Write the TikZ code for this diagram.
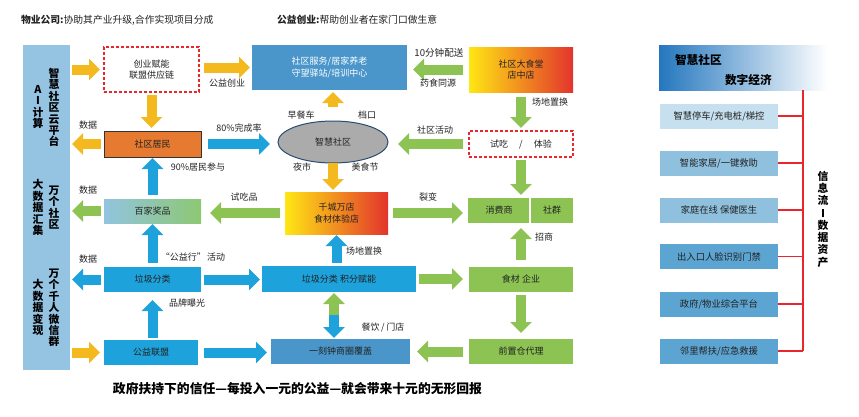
\documentclass[tikz,border=0pt]{standalone}
\usepackage{fontspec}
\setmainfont{Noto Sans CJK SC}
\usetikzlibrary{arrows.meta,shapes.geometric}
\definecolor{cyel}{HTML}{F4B91F}
\definecolor{cblu}{HTML}{1DA2DC}
\definecolor{cgrn}{HTML}{8CC353}
\definecolor{csteel}{HTML}{4A96CA}
\definecolor{cpanel}{HTML}{95C3E2}
\definecolor{corg}{HTML}{E57A30}
\definecolor{cred}{HTML}{E8262B}
\definecolor{cgray}{HTML}{ABABAB}
\definecolor{cell}{HTML}{2B4C70}
\definecolor{cit1}{HTML}{C6E0EF}
\definecolor{cit2}{HTML}{8FC1DF}
\definecolor{cit3}{HTML}{5CA4D1}
\definecolor{chead}{HTML}{2477BE}
\definecolor{ctxt}{HTML}{222222}
\definecolor{gyel}{HTML}{FFE614}
\definecolor{gorg}{HTML}{F4A22A}
\definecolor{gred}{HTML}{E3342C}
\definecolor{gpb}{HTML}{92C4E0}
\definecolor{gpg}{HTML}{8DC873}
\newcommand\myvtfont{\fontsize{10.8}{11.4}\selectfont\bfseries\lineskiplimit=-20pt\relax\lineskip=0pt\relax}
\newcommand\myrvfont{\fontsize{10.8}{12.3}\selectfont\bfseries\lineskiplimit=-20pt\relax\lineskip=0pt\relax}
\begin{document}
\begin{tikzpicture}[x=1pt,y=-1pt,
  every node/.style={inner sep=0pt, outer sep=0pt},
  lbl/.style={font=\fontsize{9}{10}\selectfont, text=ctxt},
  bx/.style={font=\fontsize{9}{11.5}\selectfont, text=ctxt, align=center},
  vt/.style={font=\myvtfont, text=black, align=center},
  blk/.style={draw=#1, line width=10pt, -{Triangle[length=11pt,width=21pt]}},
  dbox/.style={bx, draw=cred, line width=1.1pt, dash pattern=on 3pt off 2pt, fill=white},
  gradbox/.style={bx, left color=gyel, middle color=gorg, right color=gred},
  rbox/.style={bx, font=\fontsize{9.3}{11}\selectfont, minimum width=118pt, minimum height=25pt},
  redline/.style={draw=cred, line width=1.1pt}
]
\useasboundingbox (0,0) rectangle (859,416);

% top texts
\node[anchor=west, font=\fontsize{9.8}{11}\selectfont, text=ctxt] (t1) at (21,20) {\textbf{物业公司:}协助其产业升级,合作实现项目分成};
\node[anchor=west, font=\fontsize{9.8}{11}\selectfont, text=ctxt] (t2) at (277,20) {\textbf{公益创业:}帮助创业者在家门口做生意};

% left panel
\node[fill=cpanel, minimum width=47pt, minimum height=325pt] (panel) at (46.5,207.5) {};
\node[vt] (p1) at (38,107) {A\\I\\计\\算};
\node[vt] (p2) at (54,107.5) {智\\慧\\社\\区\\云\\平\\台};
\node[vt] (p3) at (38,207.5) {大\\数\\据\\汇\\集};
\node[vt] (p4) at (54,207.5) {万\\个\\社\\区};
\node[vt] (p5) at (38,307.5) {大\\数\\据\\变\\现};
\node[vt] (p6) at (54,308) {万\\个\\千\\人\\微\\信\\群};

% main nodes
\node[dbox, minimum width=95pt, minimum height=45pt] (dash1) at (151.5,69.5) {创业赋能\\联盟供应链};
\node[bx, fill=csteel, text=white, minimum width=155pt, minimum height=45pt] (svc) at (329.5,67.5) {社区服务/居家养老\\守望驿站/培训中心};
\node[gradbox, minimum width=104pt, minimum height=45pt] (canteen) at (521,69.5) {社区大食堂\\店中店};
\node[bx, fill=corg, draw=black!80, line width=0.8pt, minimum width=97pt, minimum height=26pt] (resid) at (152.5,144) {社区居民};
\node[bx, ellipse, draw=cell, line width=1pt, fill=cgray, minimum width=110pt, minimum height=42pt] (ell) at (333,142) {智慧社区};
\node[dbox, minimum width=104pt, minimum height=26pt] (trial) at (521,144) {试吃\hspace{11pt}/\hspace{11pt}体验};
\node[bx, left color=gpb, right color=gpg, minimum width=97pt, minimum height=24pt] (prize) at (152.5,211) {百家奖品};
\node[gradbox, minimum width=103pt, minimum height=42pt] (qc) at (336.5,213) {千城万店\\食材体验店};
\node[bx, fill=cgrn, minimum width=105pt, minimum height=25pt] (consumer) at (520.5,210.5) {};
\node[bx] (cons1) at (499,210.5) {消费商};
\node[bx] (cons2) at (552,210.5) {社群};
\draw[white, line width=1.3pt] (consumer.north -| 530,0) -- (consumer.south -| 530,0);
\node[bx, fill=cblu, minimum width=97pt, minimum height=25pt] (garbage) at (152.5,279.5) {垃圾分类};
\node[bx, fill=cblu, minimum width=154pt, minimum height=26pt] (gpoints) at (339,279) {垃圾分类 积分赋能};
\node[bx, fill=cgrn, minimum width=104pt, minimum height=25pt] (food) at (521,279.5) {食材 企业};
\node[bx, fill=cblu, minimum width=94pt, minimum height=25pt] (league) at (151,352.5) {公益联盟};
\node[bx, fill=csteel, minimum width=139pt, minimum height=25pt] (circle) at (340.5,351.5) {一刻钟商圈覆盖};
\node[bx, fill=cgrn, minimum width=104pt, minimum height=25pt] (front) at (521,351.5) {前置仓代理};

% yellow arrows
\draw[blk=cyel, shorten <=2pt, shorten >=4pt] (panel.east |- dash1) -- (dash1.west);
\draw[blk=cyel, shorten <=5pt, shorten >=2pt] (dash1.east |- svc) -- (svc.west);
\draw[blk=cyel, shorten <=3pt, shorten >=3pt] (dash1.south) -- (dash1.south |- resid.north);
\draw[blk=cyel, shorten <=3pt, shorten >=2pt] (resid.west) -- (resid.west -| panel.east);
\draw[blk=cyel, shorten <=14pt, shorten >=2pt] (ell.north) -- (ell.north |- svc.south);
\draw[blk=cyel, shorten <=0pt, shorten >=2pt] (ell.south) -- (ell.south |- qc.north);
\draw[blk=cyel, shorten <=2pt, shorten >=4pt] (panel.east |- league) -- (league.west);

% blue arrows
\draw[blk=cblu, shorten <=7pt, shorten >=8pt] (resid.east) -- (resid.east -| ell.west);
\draw[blk=cblu, shorten <=4pt, shorten >=1pt] (prize.north) -- (prize.north |- resid.south);
\draw[blk=cblu, shorten <=4pt, shorten >=1pt] (garbage.north) -- (garbage.north |- prize.south);
\draw[blk=cblu, shorten <=3pt, shorten >=2pt] (garbage.west) -- (garbage.west -| panel.east);
\draw[blk=cblu, shorten <=3pt, shorten >=2pt] (garbage.east) -- (garbage.east -| gpoints.west);
\draw[blk=cblu, shorten <=2pt, shorten >=8pt] (league.north -| garbage) -- (garbage.south);
\draw[blk=cblu, shorten <=6pt, shorten >=4pt] (league.east) -- (league.east -| circle.west);
\draw[blk=cblu, shorten <=3pt, shorten >=1pt] (qc.south |- gpoints.north) -- (qc.south);
\coordinate (gmid) at (334,315);
\draw[blk=cgrn, shorten >=1pt] (gmid) -- (gmid |- gpoints.south);
\draw[blk=cblu, shorten >=1pt] (gmid) -- (gmid |- circle.north);

% green arrows
\draw[blk=cgrn, shorten <=6pt, shorten >=6pt] (canteen.west) -- (canteen.west -| svc.east);
\draw[blk=cgrn, shorten <=6pt, shorten >=10pt] (trial.west) -- (trial.west -| ell.east);
\draw[blk=cgrn, shorten <=5pt, shorten >=3pt] (canteen.south) -- (canteen.south |- trial.north);
\draw[blk=cgrn, shorten <=3pt, shorten >=3pt] (trial.south) -- (trial.south |- consumer.north);
\draw[blk=cgrn, shorten <=5pt, shorten >=5pt] (qc.east) -- (qc.east -| consumer.west);
\draw[blk=cgrn, shorten <=5pt, shorten >=9pt] (qc.west) -- (qc.west -| prize.east);
\draw[blk=cgrn, shorten <=3pt, shorten >=2pt] (prize.west) -- (prize.west -| panel.east);
\draw[blk=cgrn, shorten <=3pt, shorten >=6pt] (gpoints.east) -- (gpoints.east -| food.west);
\draw[blk=cgrn, shorten <=7pt, shorten >=5pt] (food.north) -- (food.north |- consumer.south);
\draw[blk=cgrn, shorten <=3pt, shorten >=6pt] (food.south) -- (food.south |- front.north);
\draw[blk=cgrn, shorten <=6pt, shorten >=7pt] (front.west) -- (front.west -| circle.east);

% labels
\node[lbl] (l1) at (227,83) {公益创业};
\node[lbl, font=\fontsize{9.6}{10}\selectfont] (l2) at (439,53) {10分钟配送};
\node[lbl] (l3) at (438,83) {药食同源};
\node[lbl] (l4) at (550,102) {场地置换};
\node[lbl] (l5) at (88,125) {数据};
\node[lbl] (l6) at (88,190) {数据};
\node[lbl] (l7) at (88,259) {数据};
\node[lbl] (l8) at (239,128) {80\%完成率};
\node[lbl] (l9) at (301,115) {早餐车};
\node[lbl] (l10) at (367,115) {档口};
\node[lbl] (l11) at (435,130) {社区活动};
\node[lbl] (l12) at (302,167) {夜市};
\node[lbl] (l13) at (365,167) {美食节};
\node[lbl] (l14) at (198,167) {90\%居民参与};
\node[lbl] (l15) at (244,197) {试吃品};
\node[lbl] (l16) at (428,197) {裂变};
\node[lbl] (l17) at (544,237) {招商};
\node[lbl] (l18) at (364,251) {场地置换};
\node[lbl] (l19) at (193,257) {“公益行”\,活动};
\node[lbl] (l20) at (187,303) {品牌曝光};
\node[lbl] (l21) at (383,328) {餐饮\,/\,门店};

% bottom text
\node[font=\fontsize{12.8}{14}\selectfont\bfseries, text=black] (bt) at (297.5,389) {政府扶持下的信任—每投入一元的公益—就会带来十元的无形回报};

% right panel
\node[left color=chead, right color=white, minimum width=168pt, minimum height=45pt] (rhead) at (743,67.5) {};
\node[anchor=west, font=\fontsize{11.7}{13}\selectfont\bfseries] (rh1) at (675,60) {智慧社区};
\node[anchor=west, font=\fontsize{11.7}{13}\selectfont\bfseries] (rh2) at (725,80) {数字经济};
\node[rbox, fill=cit1] (it1) at (719,116) {智慧停车/充电桩/梯控};
\node[rbox, fill=cit2] (it2) at (719,163) {智能家居/一键救助};
\node[rbox, fill=cit2] (it3) at (719,210) {家庭在线\ 保健医生};
\node[rbox, fill=cit3] (it4) at (719,256.5) {出入口人脸识别门禁};
\node[rbox, fill=cit3] (it5) at (719,304) {政府/物业综合平台};
\node[rbox, fill=cit3] (it6) at (719,351) {邻里帮扶/应急救援};
\coordinate (rtop) at (803,90);
\draw[redline] (rtop) -- (rtop |- it6.east);
\foreach \i in {1,...,6} {\draw[redline] (it\i.east) -- (it\i.east -| rtop);}
\node[font=\myrvfont, align=center] (rv) at (823,219) {信\\息\\流\\\rule{1.6pt}{8pt}\\数\\据\\资\\产};
\end{tikzpicture}
\end{document}
